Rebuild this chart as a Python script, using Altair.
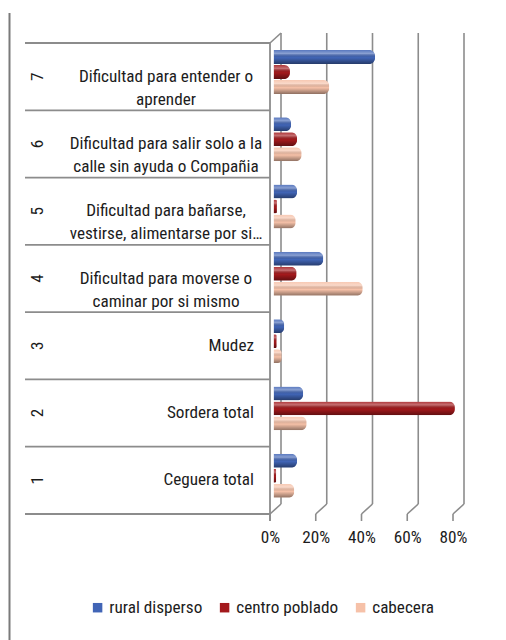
import altair as alt
import pandas as pd

# ---- data ----
cat_ids = ["7", "6", "5", "4", "3", "2", "1"]
cat_labels = [
    "Dificultad para entender o\naprender",
    "Dificultad para salir solo a la\ncalle sin ayuda o Compañia",
    "Dificultad para bañarse,\nvestirse, alimentarse por si…",
    "Dificultad para moverse o\ncaminar por si mismo",
    "Mudez",
    "Sordera total",
    "Ceguera total",
]
series = ["rural disperso", "centro poblado", "cabecera"]
rural_disperso = [0.444, 0.077, 0.103, 0.218, 0.047, 0.130, 0.103]
centro_poblado = [0.072, 0.103, 0.015, 0.101, 0.014, 0.793, 0.012]
cabecera = [0.244, 0.123, 0.097, 0.390, 0.036, 0.145, 0.091]
tick_values = [0, 0.2, 0.4, 0.6, 0.8]
colors = ["#4165B6", "#A3191C", "#F6C1A8"]

FONT = "Liberation Sans Narrow, Arial Narrow, Roboto Condensed, DejaVu Sans Condensed, sans-serif"
FS = 17.2
TXT = "#1c1c1c"
LINE = "#8c8c8c"

rows = []
for i, c in enumerate(cat_ids):
    for s, vals in zip(series, [rural_disperso, centro_poblado, cabecera]):
        rows.append({"cat": c, "series": s, "value": vals[i]})
df = pd.DataFrame(rows)
cats = pd.DataFrame({"cat": cat_ids, "label": cat_labels,
                     "multi": ["\n" in l for l in cat_labels]})
ticks_df = pd.DataFrame({"value": tick_values})
one = pd.DataFrame({"a": [0]})

W, H = 187, 471
D = 3.5  # bars sit a little behind the front plane
xscale = alt.Scale(domain=[0, 0.8], nice=False, zero=True, range=[D, 183 + D])
xaxis = alt.Axis(values=tick_values, format=".0%", title=None, domain=False,
                 ticks=False, grid=False, labelFont=FONT, labelFontSize=FS,
                 labelColor=TXT, labelPadding=14, labelFlush=False,
                 labelOffset=-D, labelOverlap=False)
X = alt.X("value:Q", scale=xscale, axis=xaxis, title=None)
yscale = alt.Scale(paddingInner=0, paddingOuter=0)
Y = alt.Y("cat:N", sort=cat_ids, scale=yscale, axis=None)

yoff = alt.YOffset("series:N", sort=series,
                   scale=alt.Scale(paddingInner=0.07, paddingOuter=0.78, align=0.3))

bars = alt.Chart(df).mark_bar(cornerRadiusEnd=6).encode(
    x=X,
    y=Y,
    yOffset=yoff,
    color=alt.Color("series:N", sort=series,
                    scale=alt.Scale(domain=series, range=colors),
                    legend=alt.Legend(orient="none", legendX=-181, legendY=556,
                                      direction="horizontal", title=None,
                                      symbolType="square", symbolSize=90,
                                      symbolStrokeWidth=0, labelFont=FONT,
                                      labelFontSize=FS, labelColor=TXT,
                                      labelOffset=3, columnPadding=13)),
)

shade = alt.LinearGradient(
    gradient="linear", x1=0, x2=0, y1=0, y2=1,
    stops=[alt.GradientStop(offset=0, color="rgba(255,255,255,0.12)"),
           alt.GradientStop(offset=0.25, color="rgba(255,255,255,0.38)"),
           alt.GradientStop(offset=0.55, color="rgba(0,0,0,0)"),
           alt.GradientStop(offset=1, color="rgba(0,0,0,0.42)")])
bars_shade = alt.Chart(df).mark_bar(cornerRadiusEnd=6, fill=shade).encode(
    x=X, y=Y, yOffset=yoff)

grid = alt.Chart(ticks_df).mark_rule(xOffset=11 - D, color=LINE, strokeWidth=1.6).encode(
    x=X, y=alt.value(-10), y2=alt.value(461))
floor = alt.Chart(ticks_df).mark_rule(xOffset=-D, x2Offset=11 - D, color=LINE,
                                      strokeWidth=1.6).encode(
    x=X, x2="value:Q", y=alt.value(471), y2=alt.value(461))
fticks = alt.Chart(ticks_df).mark_rule(xOffset=-D, color=LINE, strokeWidth=1.6).encode(
    x=X, y=alt.value(471), y2=alt.value(478))
front = alt.Chart(one).mark_rule(color=LINE, strokeWidth=1.8).encode(
    x=alt.value(0), y=alt.value(0), y2=alt.value(478))
topdiag = alt.Chart(one).mark_rule(color=LINE, strokeWidth=1.6).encode(
    x=alt.value(0), x2=alt.value(11), y=alt.value(0), y2=alt.value(-10))
page = alt.Chart(one).mark_rule(color="#7a7a7a", strokeWidth=2).encode(
    x=alt.value(-260.5), y=alt.value(-30), y2=alt.value(600))

rowlines = alt.Chart(cats).mark_rule(color=LINE, strokeWidth=1.8).encode(
    y=alt.Y("cat:N", sort=cat_ids, scale=yscale, axis=None, bandPosition=0),
    x=alt.value(-245), x2=alt.value(0))
bottomline = alt.Chart(one).mark_rule(color=LINE, strokeWidth=1.8).encode(
    y=alt.value(H), x=alt.value(-245), x2=alt.value(0))

nums = alt.Chart(cats).mark_text(angle=270, font=FONT, fontSize=FS, color=TXT,
                                 align="center", baseline="middle").encode(
    y=Y, x=alt.value(-232), text="cat:N")
multi = alt.Chart(cats).transform_filter("datum.multi").mark_text(
    font=FONT, fontSize=FS, color=TXT, align="center", baseline="middle",
    lineBreak="\n", lineHeight=23).encode(y=Y, x=alt.value(-104), text="label:N")
single = alt.Chart(cats).transform_filter("!datum.multi").mark_text(
    font=FONT, fontSize=FS, color=TXT, align="right", baseline="middle").encode(
    y=Y, x=alt.value(-16), text="label:N")

chart = alt.layer(page, grid, floor, fticks, front, topdiag, rowlines, bottomline,
                  bars, bars_shade, nums, multi, single).properties(
    width=W, height=H, padding={"left": 0, "top": 4, "right": 5, "bottom": 0},
    background="white",
).configure_view(stroke=None)

chart.save("out.html", embed_options={"renderer": "svg", "actions": False})
